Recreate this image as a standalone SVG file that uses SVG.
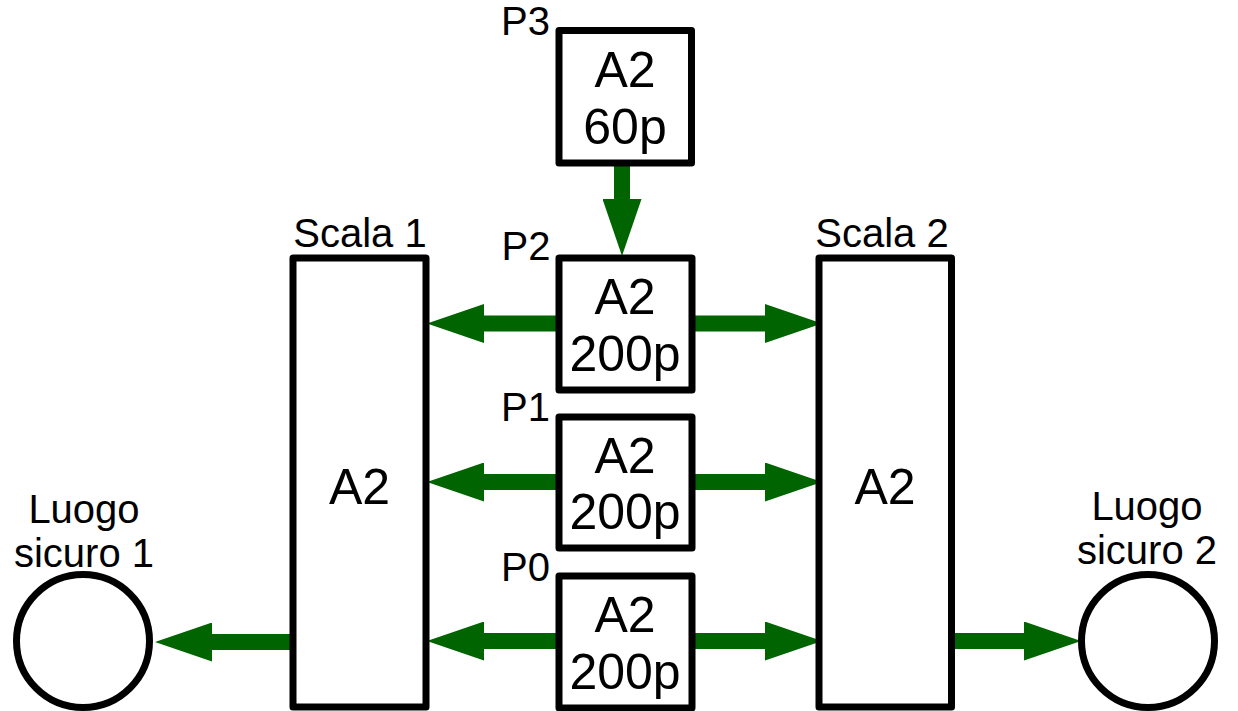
<svg xmlns="http://www.w3.org/2000/svg" width="1238" height="711" viewBox="0 0 1238 711">
<style>
.box{fill:#fff;stroke:#000;stroke-width:7;stroke-linejoin:round}
.place{fill:#fff;stroke:#000;stroke-width:7}
.lbl{font-family:"Liberation Sans",Arial,sans-serif;font-size:40px;fill:#000;text-anchor:middle}
.big{font-family:"Liberation Sans",Arial,sans-serif;font-size:50px;fill:#000;text-anchor:middle}
.flow{fill:none;stroke:#006400;stroke-width:16;marker-end:url(#head)}
</style>
<defs>
<marker id="head" markerUnits="userSpaceOnUse" viewBox="0 0 57 39" markerWidth="57" markerHeight="39" refX="0" refY="19.5" orient="auto">
<path d="M0,0 L57,19.5 L0,39 Z" fill="#006400"/>
</marker>
</defs>
<rect width="1238" height="711" fill="#fff"/>
<g id="connectors">
<line class="flow" x1="622" y1="166" x2="622" y2="199"/>
<line class="flow" x1="558" y1="323.5" x2="484" y2="323.5"/>
<line class="flow" x1="693" y1="323.5" x2="765" y2="323.5"/>
<line class="flow" x1="558" y1="482" x2="484" y2="482"/>
<line class="flow" x1="693" y1="482" x2="765" y2="482"/>
<line class="flow" x1="558" y1="641" x2="484" y2="641"/>
<line class="flow" x1="693" y1="641" x2="765" y2="641"/>
<line class="flow" x1="290" y1="642" x2="212" y2="642"/>
<line class="flow" x1="955" y1="641" x2="1024" y2="641"/>
</g>
<g id="P3">
<rect class="box" x="559" y="30.5" width="132.5" height="132.5"/>
<text class="lbl" x="525.5" y="35">P3</text>
<text class="big" x="625" y="87">A2</text>
<text class="big" x="625" y="144">60p</text>
</g>
<g id="P2">
<rect class="box" x="559" y="258" width="133" height="132"/>
<text class="lbl" x="526" y="260">P2</text>
<text class="big" x="625" y="314">A2</text>
<text class="big" x="625" y="371">200p</text>
</g>
<g id="P1">
<rect class="box" x="559" y="417" width="133" height="131"/>
<text class="lbl" x="525.5" y="421">P1</text>
<text class="big" x="625" y="473">A2</text>
<text class="big" x="625" y="529">200p</text>
</g>
<g id="P0">
<rect class="box" x="559" y="576" width="133" height="132"/>
<text class="lbl" x="525.5" y="581">P0</text>
<text class="big" x="625" y="632">A2</text>
<text class="big" x="625" y="689">200p</text>
</g>
<g id="scala1">
<rect class="box" x="293" y="258" width="133" height="449"/>
<text class="lbl" x="360" y="247">Scala 1</text>
<text class="big" x="359.5" y="504">A2</text>
</g>
<g id="scala2">
<rect class="box" x="819" y="258" width="132.5" height="449"/>
<text class="lbl" x="882" y="247">Scala 2</text>
<text class="big" x="885" y="504">A2</text>
</g>
<g id="luogo1">
<circle class="place" cx="83" cy="641" r="66.5"/>
<text class="lbl" x="84" y="523">Luogo</text>
<text class="lbl" x="84" y="567">sicuro 1</text>
</g>
<g id="luogo2">
<circle class="place" cx="1148" cy="641" r="66.5"/>
<text class="lbl" x="1147" y="520">Luogo</text>
<text class="lbl" x="1147" y="564">sicuro 2</text>
</g>
</svg>
